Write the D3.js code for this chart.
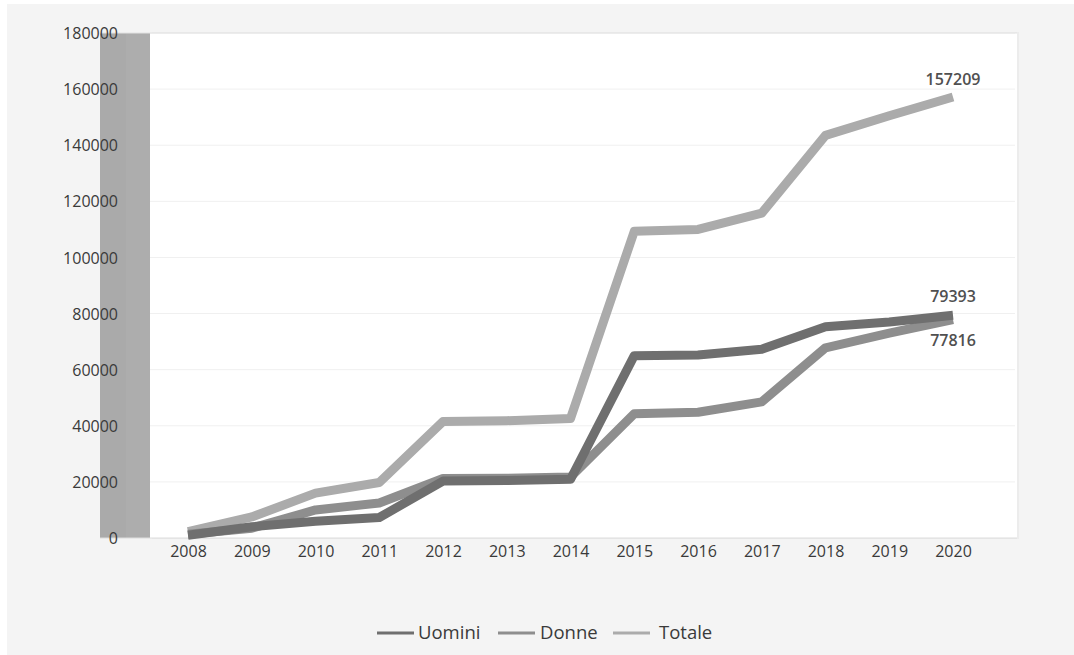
<!DOCTYPE html>
<html>
<head>
<meta charset="utf-8">
<script src="https://cdn.jsdelivr.net/npm/d3@7"></script>
<style>
  html, body { margin: 0; padding: 0; background: #ffffff; }
  svg { display: block; }
</style>
</head>
<body>
<svg id="chart" width="1074" height="655"></svg>
<script>
const years = ["2008","2009","2010","2011","2012","2013","2014","2015","2016","2017","2018","2019","2020"];
const uomini = [1000, 4000, 6000, 7300, 20300, 20500, 20900, 65000, 65200, 67300, 75300, 77000, 79393];
const donne  = [1300, 3500, 10000, 12500, 21200, 21300, 21700, 44300, 44800, 48500, 67800, 73000, 77816];
const totale = [2300, 7500, 16000, 19800, 41500, 41800, 42600, 109300, 110000, 115800, 143500, 150500, 157209];
const yTicks = [0, 20000, 40000, 60000, 80000, 100000, 120000, 140000, 160000, 180000];
const seriesNames = ["Uomini", "Donne", "Totale"];
const seriesColors = ["#6f6f6f", "#8e8e8e", "#ababab"];
const seriesData = [uomini, donne, totale];

const svg = d3.select("#chart");
const font = "'Open Sans', 'DejaVu Sans', sans-serif";

// outer background
svg.append("rect").attr("x", 7).attr("y", 4).attr("width", 1067).attr("height", 651).attr("fill", "#f4f4f4");

const plot = {left: 150, right: 1017, top: 33, bottom: 538};

// plot area with subtle shadow
svg.append("rect").attr("x", plot.left + 2).attr("y", plot.top - 1).attr("width", plot.right - plot.left).attr("height", plot.bottom - plot.top + 2).attr("fill", "#ececec");
svg.append("rect").attr("x", plot.left).attr("y", plot.top).attr("width", plot.right - plot.left).attr("height", plot.bottom - plot.top).attr("fill", "#ffffff");

const y = d3.scaleLinear().domain([0, 180000]).range([plot.bottom, plot.top]);
const x = d3.scalePoint().domain(years).range([188, 953]);

// gray band on left
svg.append("rect").attr("x", 100).attr("y", plot.top).attr("width", 26).attr("height", plot.bottom - plot.top).attr("fill", "#aaaaaa");
svg.append("rect").attr("x", 126).attr("y", plot.top).attr("width", 24).attr("height", plot.bottom - plot.top).attr("fill", "#adadad");

// gridlines
svg.append("g").selectAll("line").data(yTicks.slice(1)).join("line")
  .attr("x1", plot.left).attr("x2", plot.right - 2)
  .attr("y1", d => y(d)).attr("y2", d => y(d))
  .attr("stroke", "#f0f0f0").attr("stroke-width", 1);
svg.append("line").attr("x1", 100).attr("x2", plot.right).attr("y1", plot.top).attr("y2", plot.top).attr("stroke", "#e2e2e2");
svg.append("line").attr("x1", 100).attr("x2", plot.right).attr("y1", plot.bottom).attr("y2", plot.bottom).attr("stroke", "#dcdcdc");

// y axis labels
const yAxis = d3.axisLeft(y).tickValues(yTicks).tickSize(0).tickPadding(0).tickFormat(d3.format("d"));
const gy = svg.append("g").attr("transform", "translate(118,0)").call(yAxis);
gy.select(".domain").remove();
gy.selectAll("text").attr("font-family", font).attr("font-size", 16).attr("fill", "#3a3a3a").attr("dy", "0.35em");

// x axis labels
const xAxis = d3.axisBottom(x).tickSize(0).tickPadding(0);
const gx = svg.append("g").attr("transform", "translate(0,545)").call(xAxis);
gx.select(".domain").remove();
gx.selectAll("text").attr("font-family", font).attr("font-size", 16).attr("fill", "#3a3a3a").attr("dy", "0.75em");

// lines
const line = d3.line().x((d, i) => x(years[i])).y(d => y(d)).curve(d3.curveLinear);
[2, 1, 0].forEach(k => {
  svg.append("path").datum(seriesData[k])
    .attr("d", line).attr("fill", "none")
    .attr("stroke", seriesColors[k]).attr("stroke-width", 9)
    .attr("stroke-linejoin", "round").attr("stroke-linecap", "butt");
});

// end labels
const last = years.length - 1;
const labelOffsets = [{s: totale, dy: -12}, {s: uomini, dy: -13}, {s: donne, dy: 26}];
labelOffsets.forEach(o => {
  svg.append("text")
    .attr("x", x(years[last])).attr("y", y(o.s[last]) + o.dy)
    .attr("text-anchor", "middle")
    .attr("font-family", font).attr("font-size", 16).attr("font-weight", 600)
    .attr("fill", "#505050")
    .text(o.s[last]);
});

// legend
const legendItems = [{x: 377, tx: 418}, {x: 498, tx: 540}, {x: 613, tx: 659}];
legendItems.forEach((p, i) => {
  svg.append("line").attr("x1", p.x).attr("x2", p.x + 37).attr("y1", 633).attr("y2", 633)
    .attr("stroke", seriesColors[i]).attr("stroke-width", 3);
  svg.append("text").attr("x", p.tx).attr("y", 633).attr("dy", "0.35em")
    .attr("font-family", font).attr("font-size", 18.5).attr("fill", "#3a3a3a")
    .text(seriesNames[i]);
});
</script>
</body>
</html>
